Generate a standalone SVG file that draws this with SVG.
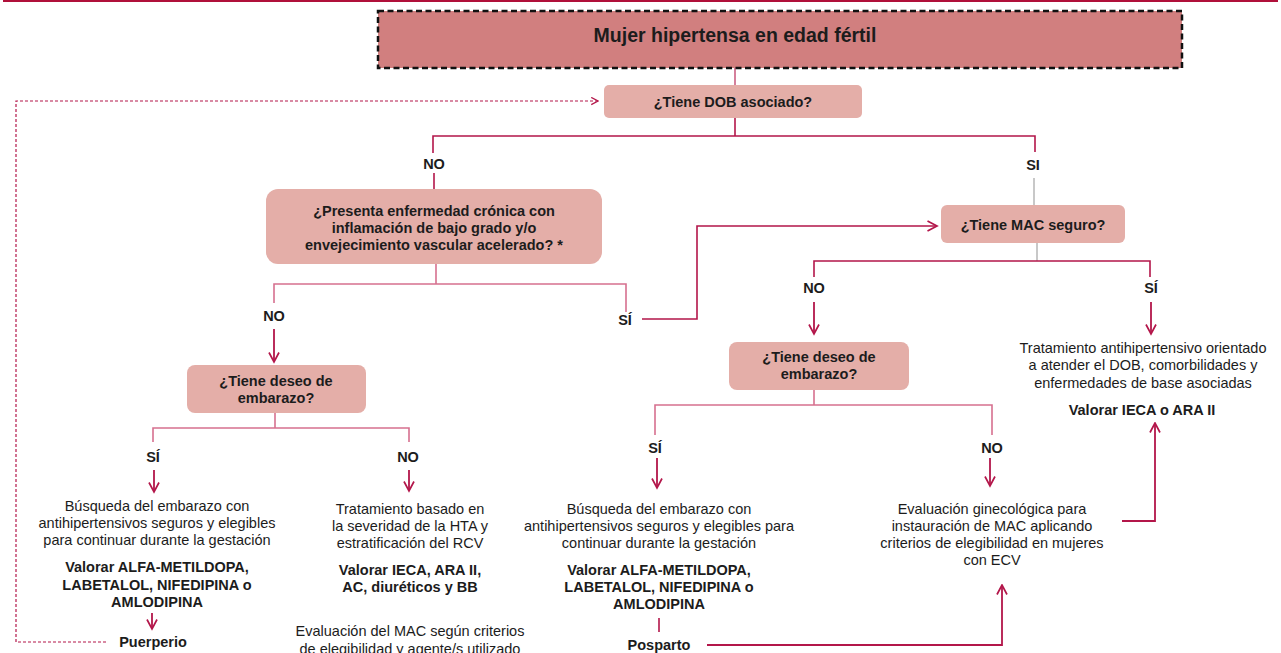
<svg xmlns="http://www.w3.org/2000/svg" width="1281" height="653" viewBox="0 0 1281 653">
  <defs>
    <style>
      text { font-family: "Liberation Sans", Arial, sans-serif; fill: #1c1c1c; text-anchor: middle; }
      .b { font-weight: bold; font-size: 14.5px; }
      .n { font-size: 14.5px; }
      .title { font-weight: bold; font-size: 19.5px; }
      .q { fill: #e4aea8; }
      .ln { fill: none; stroke: #b3164a; stroke-width: 1.6; }
      .lt { fill: none; stroke: #d6708f; stroke-width: 1.6; }
      .gr { fill: none; stroke: #a3a3a3; stroke-width: 1.2; }
      .ar { fill: none; stroke: #b3164a; stroke-width: 1.8; marker-end: url(#head); }
      .dash { fill: none; stroke: #b3164a; stroke-width: 1.2; stroke-dasharray: 3 2; }
    </style>
    <marker id="head" viewBox="0 0 12 12" refX="10.5" refY="6" markerWidth="12" markerHeight="12" markerUnits="userSpaceOnUse" orient="auto">
      <path d="M1,1 L10.5,6 L1,11" fill="none" stroke="#b3164a" stroke-width="1.7"/>
    </marker>
    <marker id="headSmall" viewBox="0 0 10 10" refX="8.5" refY="5" markerWidth="9" markerHeight="9" markerUnits="userSpaceOnUse" orient="auto">
      <path d="M1,1 L8.5,5 L1,9" fill="none" stroke="#b3164a" stroke-width="1.4"/>
    </marker>
  </defs>

  <rect width="1281" height="653" fill="#ffffff"/>
  <!-- page rule -->
  <line x1="3" y1="1" x2="1278" y2="1" stroke="#b0103a" stroke-width="2"/>

  <!-- connectors -->
  <g id="connectors">
    <line class="ln" x1="735" y1="68" x2="735" y2="85" style="stroke-width:1.1"/>
    <!-- DOB split -->
    <polyline class="ln" points="735,118 735,136"/>
    <polyline class="ln" points="433,153 433,136 1035,136 1035,152"/>
    <line class="ln" x1="434" y1="173" x2="434" y2="189"/>
    <line class="gr" x1="1034" y1="178" x2="1034" y2="205"/>
    <!-- chronic disease split -->
    <polyline class="lt" points="436,264 436,284"/>
    <polyline class="lt" points="274,303 274,284 626,284 626,312"/>
    <line class="ar" x1="274" y1="329" x2="274" y2="362"/>
    <polyline class="ln" points="642,319 697,319 697,226 937,226" style="marker-end:url(#head)"/>
    <!-- left pregnancy split -->
    <polyline class="lt" points="275,413 275,428"/>
    <polyline class="lt" points="153,442 153,428 409,428 409,442"/>
    <line class="ar" x1="154" y1="470" x2="154" y2="492"/>
    <line class="ar" x1="409" y1="470" x2="409" y2="491"/>
    <line class="ar" x1="152" y1="613" x2="152" y2="629"/>
    <!-- puerperium loop back -->
    <polyline class="dash" points="106,642 16,642 16,101 598,101" style="marker-end:url(#headSmall)"/>
    <!-- MAC split -->
    <line class="gr" x1="1037" y1="243" x2="1037" y2="261"/>
    <polyline class="ln" points="814,277 814,261 1150,261 1150,277"/>
    <line class="ar" x1="814" y1="302" x2="814" y2="334"/>
    <line class="ar" x1="1151" y1="302" x2="1151" y2="334"/>
    <!-- right pregnancy split -->
    <polyline class="lt" points="814,390 814,405"/>
    <polyline class="lt" points="655,435 655,405 992,405 992,435"/>
    <line class="ar" x1="657" y1="458" x2="657" y2="488"/>
    <line class="ar" x1="990" y1="458" x2="990" y2="486"/>
    <line class="ln" x1="659" y1="618" x2="659" y2="632"/>
    <polyline class="ar" points="707,645 1002,645 1002,585"/>
    <polyline class="ar" points="1122,521 1155,521 1155,423"/>
  </g>

  <g id="title">
    <rect x="378" y="11" width="804" height="57" fill="#d17f7f" stroke="#111" stroke-width="2.5" stroke-dasharray="6 3.5"/>
    <text class="title" x="735" y="42">Mujer hipertensa en edad fértil</text>
  </g>

  <g id="q-dob">
    <rect class="q" x="604" y="85" width="258" height="33" rx="5"/>
    <text class="b" x="733" y="107">¿Tiene DOB asociado?</text>
  </g>

  <g id="lbl-dob-no"><text class="b" x="434" y="169">NO</text></g>
  <g id="lbl-dob-si"><text class="b" x="1033" y="170">SI</text></g>

  <g id="q-cronica">
    <rect class="q" x="266" y="189" width="336" height="75" rx="12"/>
    <text class="b" x="434" y="216">¿Presenta enfermedad crónica con</text>
    <text class="b" x="434" y="233">inflamación de bajo grado y/o</text>
    <text class="b" x="434" y="250">envejecimiento vascular acelerado? *</text>
  </g>

  <g id="lbl-cron-no"><text class="b" x="274" y="321">NO</text></g>
  <g id="lbl-cron-si"><text class="b" x="625" y="325">SÍ</text></g>

  <g id="q-mac">
    <rect class="q" x="941" y="205" width="184" height="38" rx="6"/>
    <text class="b" x="1033" y="230">¿Tiene MAC seguro?</text>
  </g>

  <g id="lbl-mac-no"><text class="b" x="814" y="293">NO</text></g>
  <g id="lbl-mac-si"><text class="b" x="1151" y="293">SÍ</text></g>

  <g id="q-deseo-1">
    <rect class="q" x="187" y="365" width="179" height="48" rx="8"/>
    <text class="b" x="276" y="386">¿Tiene deseo de</text>
    <text class="b" x="276" y="403">embarazo?</text>
  </g>

  <g id="lbl-deseo1-si"><text class="b" x="153" y="462">SÍ</text></g>
  <g id="lbl-deseo1-no"><text class="b" x="408" y="462">NO</text></g>

  <g id="busqueda-1">
    <text class="n" x="157" y="511">Búsqueda del embarazo con</text>
    <text class="n" x="157" y="528">antihipertensivos seguros y elegibles</text>
    <text class="n" x="157" y="545">para continuar durante la gestación</text>
    <text class="b" x="157" y="572">Valorar ALFA-METILDOPA,</text>
    <text class="b" x="157" y="590">LABETALOL, NIFEDIPINA o</text>
    <text class="b" x="157" y="607">AMLODIPINA</text>
  </g>

  <g id="puerperio"><text class="b" x="153" y="647">Puerperio</text></g>

  <g id="tratamiento-rcv">
    <text class="n" x="410" y="514">Tratamiento basado en</text>
    <text class="n" x="410" y="531">la severidad de la HTA y</text>
    <text class="n" x="410" y="548">estratificación del RCV</text>
    <text class="b" x="410" y="575">Valorar IECA, ARA II,</text>
    <text class="b" x="410" y="592">AC, diuréticos y BB</text>
  </g>

  <g id="evaluacion-mac">
    <text class="n" x="410" y="636">Evaluación del MAC según criterios</text>
    <text class="n" x="410" y="654">de elegibilidad y agente/s utilizado</text>
  </g>

  <g id="q-deseo-2">
    <rect class="q" x="729" y="342" width="180" height="48" rx="8"/>
    <text class="b" x="819" y="362">¿Tiene deseo de</text>
    <text class="b" x="819" y="379">embarazo?</text>
  </g>

  <g id="lbl-deseo2-si"><text class="b" x="655" y="453">SÍ</text></g>
  <g id="lbl-deseo2-no"><text class="b" x="992" y="453">NO</text></g>

  <g id="busqueda-2">
    <text class="n" x="659" y="514">Búsqueda del embarazo con</text>
    <text class="n" x="659" y="531">antihipertensivos seguros y elegibles para</text>
    <text class="n" x="659" y="548">continuar durante la gestación</text>
    <text class="b" x="659" y="575">Valorar ALFA-METILDOPA,</text>
    <text class="b" x="659" y="592">LABETALOL, NIFEDIPINA o</text>
    <text class="b" x="659" y="609">AMLODIPINA</text>
  </g>

  <g id="posparto"><text class="b" x="659" y="650">Posparto</text></g>

  <g id="evaluacion-gine">
    <text class="n" x="992" y="514">Evaluación ginecológica para</text>
    <text class="n" x="992" y="531">instauración de MAC aplicando</text>
    <text class="n" x="992" y="548">criterios de elegibilidad en mujeres</text>
    <text class="n" x="992" y="565">con ECV</text>
  </g>

  <g id="tratamiento-dob">
    <text class="n" x="1143" y="353">Tratamiento antihipertensivo orientado</text>
    <text class="n" x="1143" y="370">a atender el DOB, comorbilidades y</text>
    <text class="n" x="1143" y="388">enfermedades de base asociadas</text>
    <text class="b" x="1142" y="415">Valorar IECA o ARA II</text>
  </g>
</svg>
